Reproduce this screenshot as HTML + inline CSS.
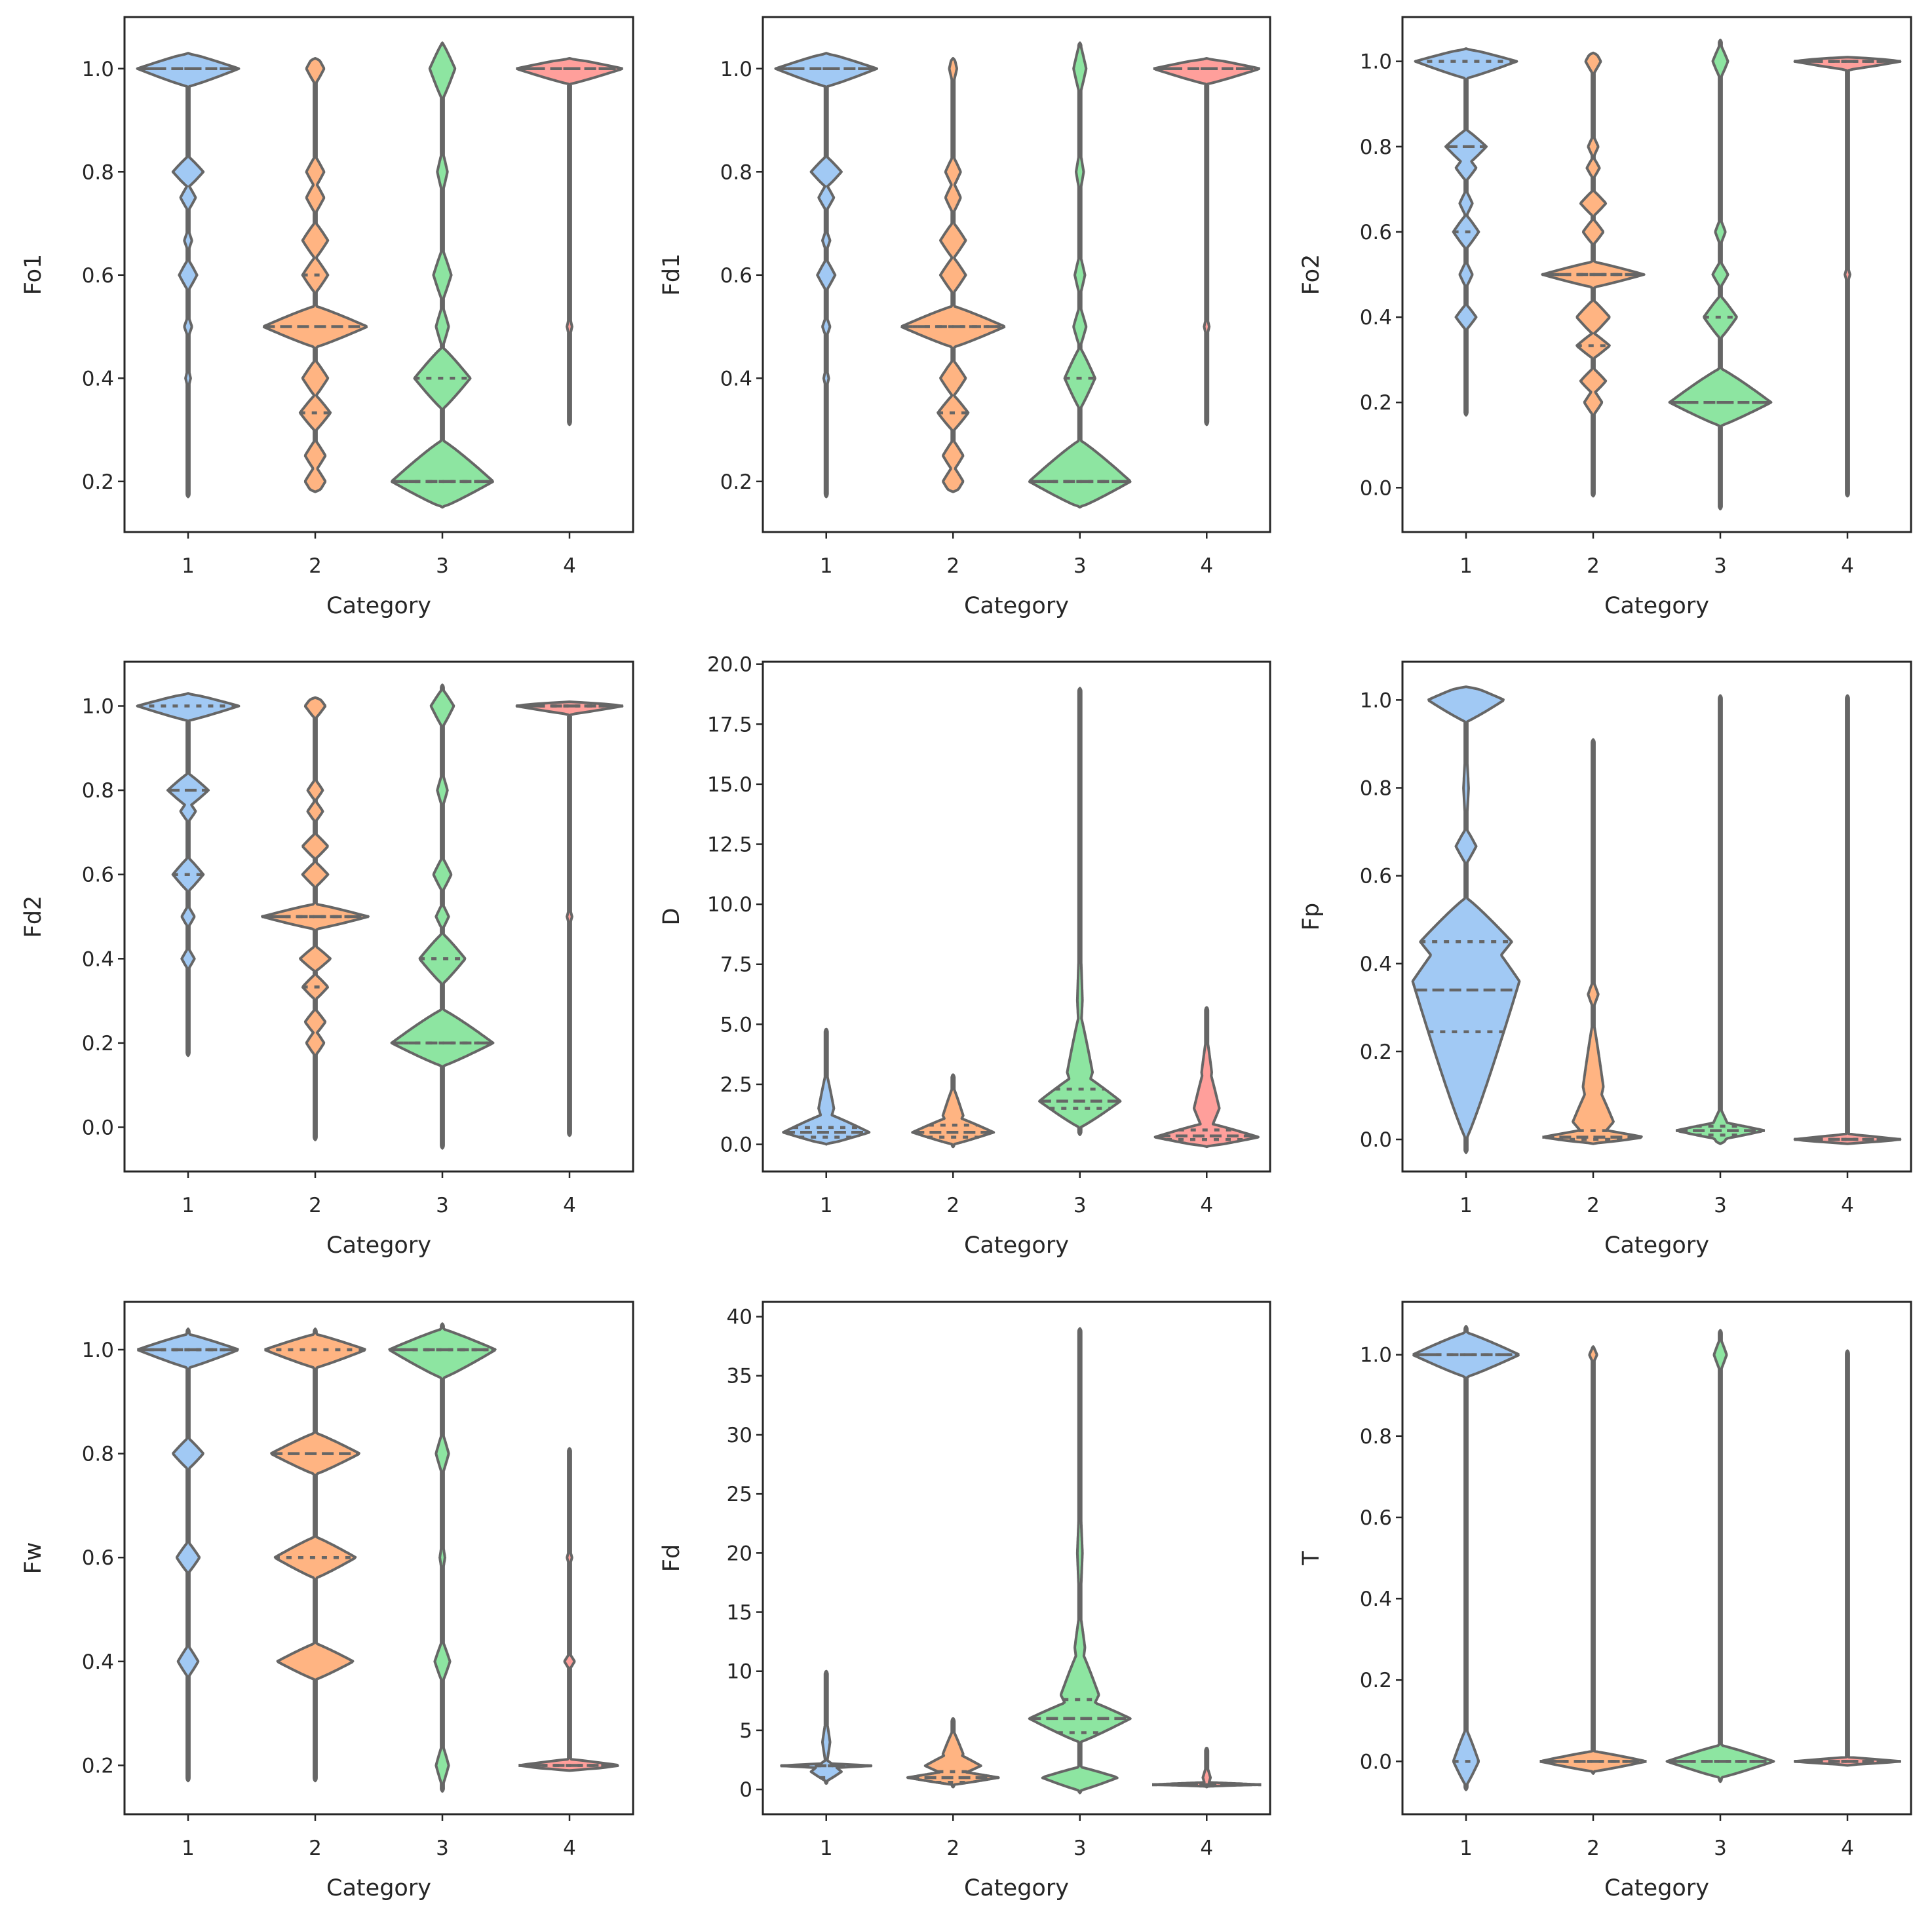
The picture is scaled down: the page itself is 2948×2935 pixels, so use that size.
<!DOCTYPE html>
<html><head><meta charset="utf-8"><style>
html,body{margin:0;padding:0;background:#fff;}
svg{display:block;font-family:"DejaVu Sans","Liberation Sans",sans-serif;}
</style></head><body>
<svg id="fig" width="2948" height="2935" viewBox="0 0 2948 2935" xmlns="http://www.w3.org/2000/svg"></svg>
<script>
// ---- data ----
const categories = ["1","2","3","4"];
const colors = ["#a1c9f4","#ffb482","#8de5a1","#ff9f9b"];
const panelNames = ["Fo1","Fd1","Fo2","Fd2","D","Fp","Fw","Fd","T"];
const yLimits = [[0.102,1.1],[0.102,1.1],[-0.104,1.104],[-0.105,1.105],[-1.13,20.1],[-0.073,1.087],[0.106,1.092],[-2.1,41.25],[-0.13,1.13]];
const yTicks = [
 [0.2,0.4,0.6,0.8,1.0],[0.2,0.4,0.6,0.8,1.0],[0,0.2,0.4,0.6,0.8,1.0],[0,0.2,0.4,0.6,0.8,1.0],
 [0,2.5,5,7.5,10,12.5,15,17.5,20],[0,0.2,0.4,0.6,0.8,1.0],[0.2,0.4,0.6,0.8,1.0],[0,5,10,15,20,25,30,35,40],[0,0.2,0.4,0.6,0.8,1.0]];
const yTickLabels = [
 ["0.2","0.4","0.6","0.8","1.0"],["0.2","0.4","0.6","0.8","1.0"],["0.0","0.2","0.4","0.6","0.8","1.0"],["0.0","0.2","0.4","0.6","0.8","1.0"],
 ["0.0","2.5","5.0","7.5","10.0","12.5","15.0","17.5","20.0"],["0.0","0.2","0.4","0.6","0.8","1.0"],["0.2","0.4","0.6","0.8","1.0"],["0","5","10","15","20","25","30","35","40"],["0.0","0.2","0.4","0.6","0.8","1.0"]];
// per violin: [min, max]
const ranges = [
 [[0.17,1.03],[0.18,1.02],[0.15,1.05],[0.31,1.02]],
 [[0.17,1.03],[0.18,1.02],[0.15,1.05],[0.31,1.02]],
 [[0.17,1.03],[-0.02,1.02],[-0.05,1.05],[-0.02,1.01]],
 [[0.17,1.03],[-0.03,1.02],[-0.05,1.05],[-0.02,1.01]],
 [[0,4.8],[-0.1,2.9],[0.4,19],[-0.1,5.7]],
 [[-0.03,1.03],[-0.01,0.91],[-0.01,1.01],[-0.01,1.01]],
 [[0.17,1.04],[0.17,1.04],[0.15,1.05],[0.19,0.81]],
 [[0.5,10],[0.2,6],[-0.3,39],[0.2,3.5]],
 [[-0.07,1.07],[-0.03,1.02],[-0.05,1.06],[-0.01,1.01]]];
// density bumps: [center, halfWidth, extentDown, extentUp]
const bumps = [
 [[[1,0.4,0.035,0.03],[0.8,0.12,0.03,0.03],[0.75,0.06,0.025,0.025],[0.667,0.03,0.02,0.02],[0.6,0.07,0.03,0.03],[0.5,0.03,0.02,0.02],[0.4,0.02,0.02,0.02]],
  [[1,0.07,0.03,0.03],[0.8,0.07,0.03,0.03],[0.75,0.07,0.03,0.03],[0.667,0.1,0.035,0.035],[0.6,0.1,0.035,0.035],[0.5,0.41,0.04,0.04],[0.4,0.1,0.035,0.035],[0.333,0.12,0.035,0.035],[0.25,0.08,0.03,0.03],[0.2,0.08,0.03,0.03]],
  [[1,0.1,0.06,0.05],[0.8,0.04,0.04,0.04],[0.6,0.07,0.05,0.05],[0.5,0.05,0.04,0.04],[0.4,0.22,0.06,0.06],[0.2,0.4,0.05,0.08]],
  [[1,0.42,0.03,0.02],[0.5,0.02,0.02,0.02]]],
 [[[1,0.4,0.035,0.03],[0.8,0.12,0.03,0.03],[0.75,0.06,0.025,0.025],[0.667,0.03,0.02,0.02],[0.6,0.07,0.03,0.03],[0.5,0.03,0.02,0.02],[0.4,0.02,0.02,0.02]],
  [[1,0.03,0.03,0.03],[0.8,0.06,0.03,0.03],[0.75,0.06,0.03,0.03],[0.667,0.1,0.035,0.035],[0.6,0.1,0.035,0.035],[0.5,0.41,0.04,0.04],[0.4,0.1,0.035,0.035],[0.333,0.12,0.035,0.035],[0.25,0.08,0.03,0.03],[0.2,0.08,0.03,0.03]],
  [[1,0.05,0.05,0.05],[0.8,0.03,0.04,0.04],[0.6,0.04,0.04,0.04],[0.5,0.05,0.04,0.04],[0.4,0.12,0.06,0.06],[0.2,0.4,0.05,0.08]],
  [[1,0.42,0.03,0.02],[0.5,0.02,0.02,0.02]]],
 [[[1,0.4,0.04,0.03],[0.8,0.16,0.045,0.04],[0.75,0.08,0.03,0.03],[0.667,0.05,0.03,0.03],[0.6,0.1,0.04,0.04],[0.5,0.05,0.03,0.03],[0.4,0.08,0.03,0.03]],
  [[1,0.06,0.03,0.03],[0.8,0.04,0.025,0.025],[0.75,0.05,0.025,0.025],[0.667,0.1,0.03,0.03],[0.6,0.08,0.03,0.03],[0.5,0.4,0.03,0.03],[0.4,0.13,0.04,0.04],[0.333,0.13,0.03,0.03],[0.25,0.1,0.03,0.03],[0.2,0.07,0.03,0.03]],
  [[1,0.06,0.04,0.04],[0.6,0.04,0.03,0.03],[0.5,0.06,0.03,0.03],[0.4,0.13,0.05,0.05],[0.2,0.4,0.055,0.08]],
  [[1,0.42,0.02,0.015],[0.5,0.02,0.02,0.02]]],
 [[[1,0.4,0.035,0.03],[0.8,0.16,0.04,0.04],[0.75,0.06,0.025,0.025],[0.6,0.12,0.04,0.04],[0.5,0.05,0.025,0.025],[0.4,0.05,0.025,0.025]],
  [[1,0.08,0.03,0.03],[0.8,0.06,0.025,0.025],[0.75,0.06,0.025,0.025],[0.667,0.1,0.03,0.03],[0.6,0.1,0.03,0.03],[0.5,0.42,0.03,0.03],[0.4,0.12,0.03,0.03],[0.333,0.1,0.03,0.03],[0.25,0.08,0.03,0.03],[0.2,0.07,0.03,0.03]],
  [[1,0.09,0.05,0.04],[0.8,0.04,0.04,0.04],[0.6,0.07,0.04,0.04],[0.5,0.05,0.03,0.03],[0.4,0.18,0.06,0.06],[0.2,0.4,0.055,0.08]],
  [[1,0.42,0.02,0.015],[0.5,0.02,0.02,0.02]]],
 [[[0.5,0.34,0.5,0.8],[1.5,0.06,1.0,1.5]],
  [[0.5,0.32,0.5,0.7],[1.2,0.08,0.8,1.2]],
  [[1.8,0.32,1.1,1.2],[3,0.1,1.5,2.5],[6,0.02,2,3]],
  [[0.3,0.41,0.4,0.6],[1.5,0.1,1.2,2],[3,0.04,1.5,1.5]]],
 [[[1,0.3,0.05,0.035],[0.667,0.08,0.04,0.04],[0.36,0.42,0.36,0.16],[0.45,0.36,0.12,0.1],[0.8,0.02,0.1,0.1]],
  [[0.005,0.4,0.015,0.02],[0.04,0.16,0.05,0.1],[0.12,0.08,0.1,0.15],[0.33,0.04,0.03,0.03]],
  [[0.02,0.35,0.02,0.02],[0.02,0.08,0.04,0.05]],
  [[0,0.42,0.012,0.012]]],
 [[[1,0.4,0.035,0.03],[0.8,0.12,0.03,0.03],[0.6,0.09,0.03,0.03],[0.4,0.08,0.03,0.03]],
  [[1,0.4,0.035,0.03],[0.8,0.35,0.04,0.04],[0.6,0.32,0.04,0.04],[0.4,0.3,0.035,0.035]],
  [[1,0.42,0.055,0.04],[0.8,0.05,0.04,0.04],[0.6,0.02,0.03,0.03],[0.4,0.06,0.04,0.04],[0.2,0.05,0.04,0.04]],
  [[0.2,0.4,0.012,0.012],[0.4,0.04,0.015,0.015],[0.6,0.02,0.015,0.015]]],
 [[[2,0.36,0.2,0.2],[1.5,0.12,0.8,1.0],[4,0.03,2,2]],
  [[1,0.36,0.6,0.6],[2,0.22,1.0,1.2],[3,0.08,1.5,2]],
  [[6,0.4,2,1.8],[1,0.3,1.1,0.9],[8,0.15,3,4],[12,0.04,3,3],[20,0.02,5,5]],
  [[0.4,0.43,0.15,0.2],[1,0.03,1,1]]],
 [[[1,0.42,0.055,0.055],[0,0.1,0.06,0.08]],
  [[0,0.42,0.025,0.025],[1,0.03,0.02,0.02]],
  [[0,0.42,0.04,0.04],[1,0.05,0.04,0.04]],
  [[0,0.42,0.01,0.01]]]];
// quartiles: [q1, median, q3]
const quartiles = [
 [[1,1,1],[0.333,0.5,0.6],[0.2,0.2,0.4],[1,1,1]],
 [[1,1,1],[0.333,0.5,0.5],[0.2,0.2,0.4],[1,1,1]],
 [[0.6,0.8,1],[0.333,0.5,0.5],[0.2,0.2,0.4],[1,1,1]],
 [[0.6,0.8,1],[0.333,0.5,0.5],[0.2,0.2,0.4],[1,1,1]],
 [[0.3,0.5,0.7],[0.3,0.5,0.8],[1.5,1.8,2.3],[0.2,0.35,0.6]],
 [[0.245,0.34,0.45],[0,0.005,0.02],[0.01,0.02,0.03],[0,0,0]],
 [[1,1,1],[0.6,0.8,1],[1,1,1],[0.2,0.2,0.2]],
 [[1,2,2],[0.6,1,1.5],[4.8,6,7.6],[0.4,0.4,0.4]],
 [[0,1,1],[0,0,0],[0,0,0],[0,0,0]]];

// ---- layout ----
const colLeft=[190,1164,2140], colRight=[966,1938,2916];
const rowTop=[26,1010,1987], rowBottom=[812,1788,2769];
const NS="http://www.w3.org/2000/svg";
const svg=document.getElementById('fig');
function mk(tag,attrs,parent){const e=document.createElementNS(NS,tag);for(const k in attrs)e.setAttribute(k,attrs[k]);(parent||svg).appendChild(e);return e;}
const LINE="#666666";

panelNames.forEach((name,p)=>{
  const r=Math.floor(p/3),c=p%3;
  const L=colLeft[c],R=colRight[c],T=rowTop[r],B=rowBottom[r];
  const [y0,y1]=yLimits[p];
  const ys=v=>B-(v-y0)/(y1-y0)*(B-T);
  const xs=v=>L+(v+0.5)/4*(R-L);
  const unit=(R-L)/4;
  const g=mk('g',{});
  
  
  categories.forEach((cat,i)=>{
    const [mn,mx]=ranges[p][i];
    const bs=bumps[p][i];
    const wAt=v=>{let w=0.01;bs.forEach(b=>{const d=v-b[0];const h=d<0?b[2]:b[3];const t=Math.abs(d)/h;if(t<1){const ww=b[1]*Math.pow(1-t,0.9);if(ww>w)w=ww;}});return w;};
    const N=400;const left=[],right=[];
    for(let k=0;k<=N;k++){const v=mn+(mx-mn)*k/N;let w=wAt(v);
      const e=Math.min(v-mn,mx-v)/(y1-y0)*200; if(e<1) w=w*Math.sqrt(Math.max(e,0));
      right.push([xs(i)+w*unit,ys(v)]);left.push([xs(i)-w*unit,ys(v)]);}
    const pts=right.concat(left.reverse()).map(q=>q[0].toFixed(1)+','+q[1].toFixed(1)).join(' ');
    const vg=mk('g',{},g);
    
    
    mk('polygon',{points:pts,fill:colors[i],stroke:LINE,'stroke-width':4,'stroke-linejoin':'round'},vg);
    quartiles[p][i].forEach((q,j)=>{
      const w=Math.max(wAt(q),0.02)*unit;
      const ln=mk('line',{x1:xs(i)-w,x2:xs(i)+w,y1:ys(q),y2:ys(q),stroke:LINE,'stroke-width':4.5,'stroke-dasharray':j==1?'18,8':'8,10'},vg);
      
      
    });
  });
  const fr=mk('rect',{x:L,y:T,width:R-L,height:B-T,fill:'none',stroke:'#262626','stroke-width':3},g);
  
  
  yTicks[p].forEach((t,k)=>{
    mk('line',{x1:L-10,x2:L,y1:ys(t),y2:ys(t),stroke:'#262626','stroke-width':2.5},g);
    const tx=mk('text',{x:L-16,y:ys(t)+11,'text-anchor':'end','font-size':31,fill:'#262626'},g);
    tx.textContent=yTickLabels[p][k];
    
    
  });
  categories.forEach((cat,i)=>{
    mk('line',{x1:xs(i),x2:xs(i),y1:B,y2:B+10,stroke:'#262626','stroke-width':2.5},g);
    const tx=mk('text',{x:xs(i),y:B+62,'text-anchor':'middle','font-size':31,fill:'#262626'},g);
    tx.textContent=cat;
    
    
  });
  const xl=mk('text',{x:(L+R)/2,y:B+124,'text-anchor':'middle','font-size':35,fill:'#262626'},g);
  xl.textContent='Category';
  
  
  const yx=L-128, yy=(T+B)/2;
  const yl=mk('text',{x:yx,y:yy,'text-anchor':'middle','font-size':35,fill:'#262626',transform:`rotate(-90 ${yx} ${yy})`},g);
  yl.textContent=name;
  
  
});
</script>
</body></html>
